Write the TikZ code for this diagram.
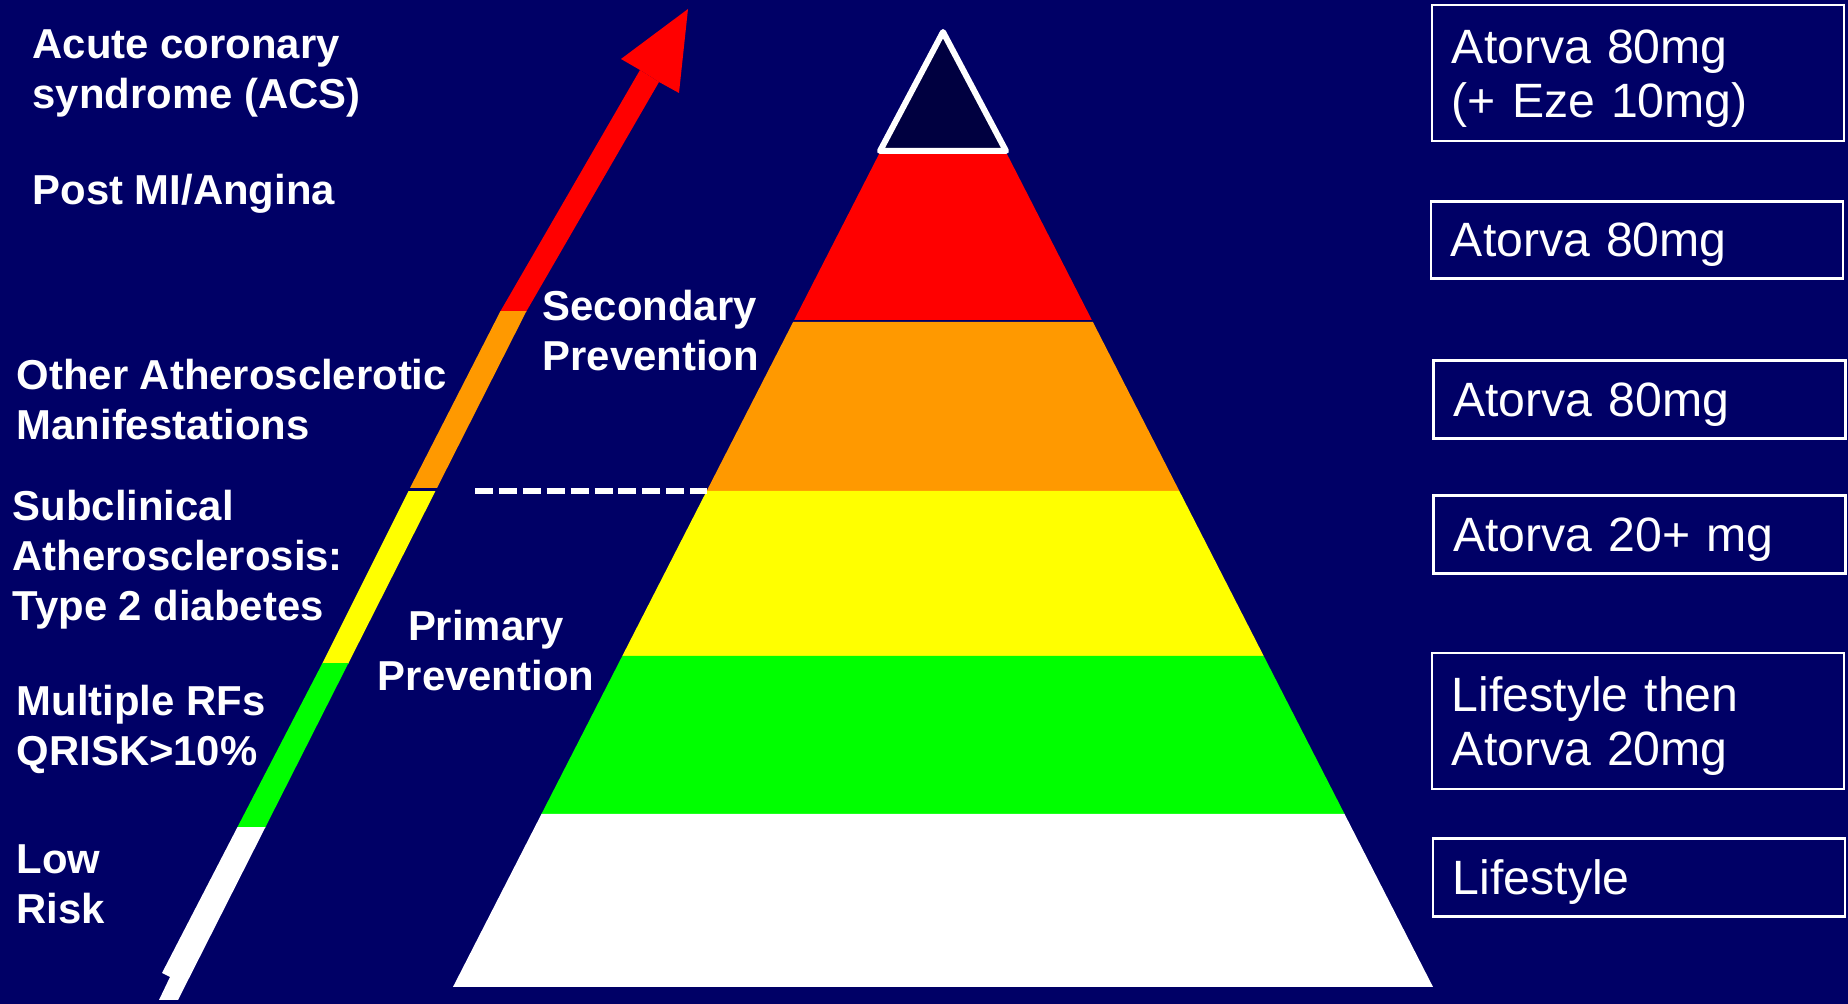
\documentclass[tikz,border=0pt]{standalone}
\usepackage{fontspec}
\setmainfont{Liberation Sans}
\definecolor{bg}{RGB}{0,0,102}
\definecolor{tipfill}{RGB}{0,0,64}
\definecolor{band1}{RGB}{255,0,0}
\definecolor{band2}{RGB}{255,153,0}
\definecolor{band3}{RGB}{255,255,0}
\definecolor{band4}{RGB}{0,255,0}

\begin{document}
\begin{tikzpicture}[
          x=0.01cm, y=-0.01cm,
          risk/.style={anchor=base west, inner sep=0pt, text=white, align=left,
            font=\fontsize{11.9}{14.3}\selectfont\bfseries},
          dose/.style={draw=white, line width=0.7pt, text=white, align=left,
            inner xsep=0.2cm, inner ysep=0pt, minimum width=4.12cm, text width=3.72cm,
            text depth=0pt, font=\fontsize{13.7}{15.6}\selectfont},
          dose2/.style={dose, text height=12.8pt, text depth={}, minimum height=1.36cm}
        ]
          \fill[bg] (0,0) rectangle (1848,1004);
          \useasboundingbox (0,0) rectangle (1848,1004);

          % pyramid
          \foreach \col/\ya/\yb in {band1/152/320, band2/322/491, band3/491/656, band4/656/814, white/814/987}
            \fill[\col] ({943-0.5115*(\ya-29)},\ya) -- ({943+0.5115*(\ya-29)},\ya)
              -- ({943+0.5115*(\yb-29)},\yb) -- ({943-0.5115*(\yb-29)},\yb) -- cycle;
          \draw[white, line width=1.7pt, line join=round, fill=tipfill] (943,32) -- (1006,151) -- (880,151) -- cycle;

          % rising arrow
          \foreach \col/\ya/\yb in {band1/0/312, band2/312/488, band3/492/664, band4/664/828, white/828/1004} {
            \begin{scope}
              \clip (0,\ya) rectangle (1848,\yb);
              \fill[\col] (159,1000) -- (170,977) -- (162,973) -- (237,828) -- (322,664) -- (409,490)
                -- (500,312) -- (640,70) -- (659,82) -- (526,312) -- (436,490) -- (348,664)
                -- (265,828) -- (178,1000) -- cycle;
            \end{scope}
          }
          \fill[band1] (688,9) -- (679,93) -- (659,82) -- (640,70) -- (621,59) -- cycle;

          \coordinate (dashL) at (475,491);
          \coordinate (pyrL) at (707,491);
          \draw[white, line width=1.7pt, dash pattern=on 5.1pt off 1.7pt] (dashL) -- (pyrL);

          % labels sit on the baseline of their last line
          \node[risk] (acs) at (32,109) {Acute coronary\\syndrome (ACS)};
          \node[risk] (postmi) at (32,205) {Post MI/Angina};
          \node[risk] (other) at (16,440) {Other Atherosclerotic\\Manifestations};
          \node[risk] (subclin) at (12,621) {Subclinical\\Atherosclerosis:\\Type 2 diabetes};
          \node[risk] (multi) at (16,766) {Multiple RFs\\QRISK>10\%};
          \node[risk] (low) at (16,924) {Low\\Risk};
          \node[risk] (second) at (542,371) {Secondary\\Prevention};
          \node[risk, anchor=base, align=center] (prim) at (486,691) {Primary\\Prevention};

          \node[dose2] (d80eze) at (1638,73) {Atorva 80mg\\(+ Eze 10mg)};
          \node[dose, minimum height=0.77cm] (d80a) at (1637,240) {Atorva 80mg};
          \node[dose, minimum height=0.78cm] (d80b) at (1639.5,399.5) {Atorva 80mg};
          \node[dose, minimum height=0.78cm] (d20p) at (1639.5,534.5) {Atorva 20+ mg};
          \node[dose2] (d20) at (1638,721) {Lifestyle then\\Atorva 20mg};
          \node[dose, minimum height=0.78cm] (life) at (1639,877.5) {Lifestyle};
        \end{tikzpicture}
\end{document}
